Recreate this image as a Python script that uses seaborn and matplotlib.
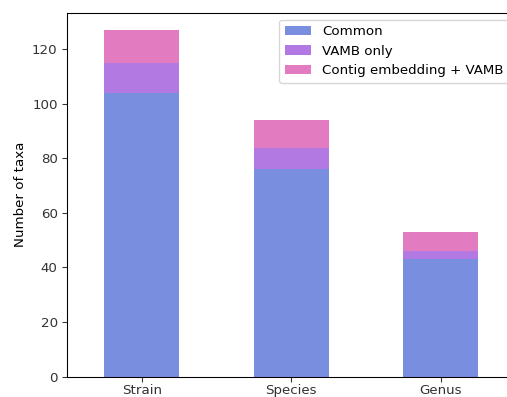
import matplotlib
matplotlib.use("Agg")
import matplotlib.pyplot as plt
import seaborn as sns
import pandas as pd

# taxa counts
levels = ["Strain", "Species", "Genus"]
common = [104, 76, 43]
vamb_only = [11, 8, 3]
contig_vamb = [12, 10, 7]

series_names = ["Common", "VAMB only", "Contig embedding + VAMB"]
colors = ["#7a8ee0", "#b279e2", "#e27bc0"]

df = pd.DataFrame({"Level": levels, "Common": common,
                   "VAMB only": vamb_only,
                   "Contig embedding + VAMB": contig_vamb})
# cumulative heights so the bars can be layered (stacked look)
df["c1"] = df["Common"]
df["c2"] = df["c1"] + df["VAMB only"]
df["c3"] = df["c2"] + df["Contig embedding + VAMB"]

dpi = 96
fig = plt.figure(figsize=(507 / dpi, 397 / dpi), dpi=dpi)
ax = fig.add_axes([67 / 507, 1 - 376.5 / 397, 448.5 / 507, 363.5 / 397])

for col, name, color in zip(["c3", "c2", "c1"], series_names[::-1], colors[::-1]):
    sns.barplot(data=df, x="Level", y=col, color=color, width=0.5,
                saturation=1, ax=ax, label=name, edgecolor="none")

ax.set_xlim(-0.5, 2.5)
ax.set_xlabel("")
ax.set_ylabel("Number of taxa")
ax.tick_params(colors="#333333", labelsize=10)
ax.tick_params(axis="x", pad=2)

handles, labels = ax.get_legend_handles_labels()
order = [labels.index(n) for n in series_names]
ax.legend([handles[i] for i in order], series_names, loc="upper right", fontsize=10)

fig.savefig("out.png", dpi=dpi)
